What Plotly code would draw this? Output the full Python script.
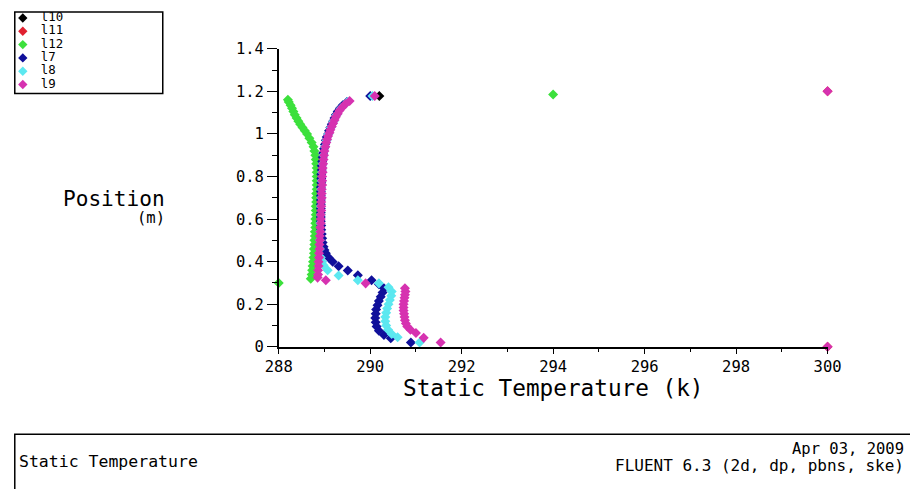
import plotly.graph_objects as go

FONT = "DejaVu Sans Mono"

# ---------------- data ----------------
series_names = ["l10", "l11", "l12", "l7", "l8", "l9"]
series_colors = ["#000000", "#e02030", "#3ce03c", "#10109a", "#5ce8f0", "#d632b0"]

# l10 (black)
T10 = [290.20]
P10 = [1.178]

# l11 (red)
T11 = [300.0, 300.0]
P11 = [1.20, 0.0]

# l12 (green)
P12 = [0.32, 0.34, 0.36, 0.38, 0.40, 0.42, 0.44, 0.46, 0.48, 0.50,
       0.52, 0.54, 0.56, 0.58, 0.60, 0.62, 0.64, 0.66, 0.68, 0.70,
       0.72, 0.74, 0.76, 0.78, 0.80, 0.82, 0.84, 0.86, 0.88, 0.90,
       0.92, 0.94, 0.96, 0.98, 1.00, 1.015, 1.03, 1.045, 1.06, 1.075,
       1.09, 1.105, 1.12, 1.135, 1.15, 1.16, 0.30, 1.185]
T12 = [288.70, 288.72, 288.73, 288.74, 288.75, 288.76, 288.77, 288.77, 288.78, 288.78,
       288.79, 288.79, 288.80, 288.80, 288.80, 288.81, 288.81, 288.81, 288.82, 288.82,
       288.82, 288.83, 288.83, 288.83, 288.83, 288.83, 288.83, 288.82, 288.81, 288.80,
       288.78, 288.76, 288.72, 288.67, 288.62, 288.57, 288.52, 288.47, 288.43, 288.39,
       288.35, 288.32, 288.29, 288.26, 288.22, 288.20, 288.00, 294.00]

# l7 (dark blue)
P7 = [1.15, 1.135, 1.12, 1.105, 1.09, 1.075, 1.06, 1.045, 1.03, 1.015,
      1.0, 0.985, 0.97, 0.95, 0.93, 0.91, 0.89, 0.87, 0.85, 0.83,
      0.81, 0.79, 0.77, 0.75, 0.73, 0.71, 0.69, 0.67, 0.65, 0.63,
      0.61, 0.59, 0.57, 0.55, 0.53, 0.51, 0.49, 0.47, 0.455,
      0.44, 0.42, 0.40, 0.378, 0.358, 0.336, 0.313, 0.294, 0.275, 0.255,
      0.235, 0.215, 0.195, 0.175, 0.155, 0.135, 0.115, 0.095, 0.075, 0.055,
      0.04, 0.02, 1.178]
T7 = [289.49, 289.40, 289.34, 289.29, 289.25, 289.22, 289.19, 289.16, 289.13, 289.10,
      289.08, 289.05, 289.03, 289.01, 288.99, 288.97, 288.96, 288.95, 288.94, 288.94,
      288.93, 288.93, 288.93, 288.92, 288.92, 288.92, 288.92, 288.92, 288.92, 288.92,
      288.92, 288.92, 288.93, 288.93, 288.94, 288.95, 288.96, 288.98, 289.00,
      289.03, 289.09, 289.18, 289.31, 289.51, 289.73, 290.03, 290.19, 290.30, 290.27,
      290.23, 290.19, 290.16, 290.13, 290.12, 290.11, 290.12, 290.14, 290.19, 290.30,
      290.45, 290.89, 290.00]

# l8 (cyan)
P8 = [1.15, 1.12, 1.09, 1.06, 1.03, 1.0, 0.97, 0.94, 0.90, 0.86,
      0.82, 0.78, 0.74, 0.70, 0.66, 0.62, 0.58, 0.54, 0.50, 0.46,
      0.42, 0.40, 0.383, 0.36, 0.335, 0.313, 0.298, 0.28, 0.26, 0.24,
      0.22, 0.20, 0.18, 0.16, 0.14, 0.12, 0.10, 0.08, 0.06, 0.045,
      0.02, 1.178]
T8 = [289.50, 289.36, 289.27, 289.20, 289.14, 289.09, 289.05, 289.01, 288.98, 288.96,
      288.95, 288.94, 288.93, 288.93, 288.92, 288.92, 288.91, 288.91, 288.90, 288.90,
      288.92, 288.95, 288.98, 289.07, 289.31, 289.73, 290.19, 290.40, 290.47, 290.46,
      290.43, 290.40, 290.37, 290.35, 290.33, 290.33, 290.35, 290.39, 290.47, 290.60,
      291.08, 290.05]

# l9 (magenta)
P9 = [1.155, 1.14, 1.125, 1.11, 1.095, 1.08, 1.065, 1.05, 1.035, 1.02,
      1.005, 0.99, 0.975, 0.96, 0.94, 0.92, 0.90, 0.88, 0.86, 0.84,
      0.82, 0.80, 0.78, 0.76, 0.74, 0.72, 0.70, 0.68, 0.66, 0.64,
      0.62, 0.60, 0.58, 0.56, 0.54, 0.52, 0.50, 0.48, 0.46, 0.44,
      0.42, 0.40, 0.38, 0.36, 0.34, 0.325,
      0.313, 0.298, 0.275, 0.26, 0.245, 0.23, 0.215, 0.20, 0.185, 0.17,
      0.155, 0.14, 0.125, 0.11, 0.095, 0.08, 0.065, 0.042, 0.02,
      1.178, 1.20, 0.0]
T9 = [289.55, 289.46, 289.39, 289.33, 289.29, 289.25, 289.22, 289.19, 289.16, 289.13,
      289.11, 289.08, 289.06, 289.04, 289.02, 289.00, 288.99, 288.98, 288.97, 288.96,
      288.96, 288.95, 288.95, 288.95, 288.94, 288.94, 288.94, 288.93, 288.93, 288.93,
      288.92, 288.92, 288.92, 288.91, 288.91, 288.90, 288.90, 288.89, 288.89, 288.88,
      288.88, 288.87, 288.87, 288.86, 288.86, 288.85,
      289.03, 289.90, 290.76, 290.77, 290.76, 290.75, 290.74, 290.73, 290.73, 290.73,
      290.74, 290.75, 290.76, 290.78, 290.81, 290.88, 291.00, 291.17, 291.54,
      290.10, 300.0, 300.0]

x_ticks = [288, 290, 292, 294, 296, 298, 300]
x_ticklabels = ["288", "290", "292", "294", "296", "298", "300"]
y_ticks = [0, 0.2, 0.4, 0.6, 0.8, 1, 1.2, 1.4]
y_ticklabels = ["0", "0.2", "0.4", "0.6", "0.8", "1", "1.2", "1.4"]

xs = [T10, T11, T12, T7, T8, T9]
ys = [P10, P11, P12, P7, P8, P9]

# ---------------- layout helpers ----------------
# the photographed page appears slightly scaled/offset; map target pixels to page pixels
SC, OX, OY = 0.97, 13.2, 7.0
W, H = 925, 497


def px_x(p):
    page = max((p - OX) / SC, 0.8)
    return page / W


def px_y(p):
    page = max((p - OY) / SC, 0.8)
    return 1 - page / H


def fs(size):
    return round(size / SC, 1)


fig = go.Figure()
for name, col, xv, yv in zip(series_names, series_colors, xs, ys):
    fig.add_trace(go.Scatter(
        x=xv, y=yv, mode="markers", name=name, showlegend=False,
        cliponaxis=False,
        marker=dict(symbol="diamond", size=fs(7.5), color=col, line=dict(width=0)),
    ))

# manual legend (on its own small axes; x in target pixels, y = item index)
leg_idx = list(range(len(series_names)))
fig.add_trace(go.Scatter(
    x=[22] * len(series_names), y=leg_idx, mode="markers",
    marker=dict(symbol="diamond", size=fs(7), color=series_colors),
    xaxis="x2", yaxis="y2", showlegend=False, hoverinfo="skip"))
fig.add_trace(go.Scatter(
    x=[40] * len(series_names), y=leg_idx, mode="text", text=series_names,
    textposition="middle right",
    textfont=dict(family=FONT, size=fs(12), color="#000000"),
    xaxis="x2", yaxis="y2", showlegend=False, hoverinfo="skip"))

axis_common = dict(showgrid=False, zeroline=False, showline=True,
                   linecolor="#000000", linewidth=1.5,
                   tickcolor="#000000", tickwidth=1.2,
                   tickfont=dict(family=FONT, size=fs(15), color="#000000"))

fig.update_layout(
    width=W, height=H, autosize=False,
    margin=dict(l=0, r=0, t=0, b=0),
    paper_bgcolor="white", plot_bgcolor="white",
    showlegend=False,
    xaxis=dict(domain=[px_x(278), px_x(827)], range=[288, 300],
               tickvals=x_ticks, ticktext=x_ticklabels,
               ticks="outside", ticklen=5, anchor="y",
               minor=dict(dtick=1, ticks="outside", ticklen=3,
                          tickcolor="#000000", tickwidth=1),
               **axis_common),
    yaxis=dict(domain=[px_y(347), px_y(47)], range=[0, 1.4],
               tickvals=y_ticks, ticktext=y_ticklabels,
               ticks="outside", ticklen=10, anchor="x",
               minor=dict(dtick=0.1, ticks="outside", ticklen=5,
                          tickcolor="#000000", tickwidth=1),
               **axis_common),
    xaxis2=dict(domain=[px_x(14), px_x(162)], range=[14, 162],
                visible=False, fixedrange=True, anchor="y2"),
    yaxis2=dict(domain=[px_y(92), px_y(10)], range=[5.67, -0.45],
                visible=False, fixedrange=True, anchor="x2"),
)

shapes = [
    # legend box
    dict(type="rect", xref="paper", yref="paper",
         x0=px_x(6), x1=px_x(162), y0=px_y(92), y1=px_y(10),
         line=dict(color="#000000", width=1.5), fillcolor="rgba(0,0,0,0)"),
    # bottom title box
    dict(type="rect", xref="paper", yref="paper",
         x0=px_x(6), x1=1.05, y0=-0.05, y1=px_y(435),
         line=dict(color="#000000", width=1.5), fillcolor="rgba(0,0,0,0)"),
]
fig.update_layout(shapes=shapes)

annotations = [
    dict(text="Static Temperature (k)", x=px_x(553), y=px_y(388),
         xref="paper", yref="paper", showarrow=False,
         xanchor="center", yanchor="middle",
         font=dict(family=FONT, size=fs(22), color="#000000")),
    dict(text="Position", x=px_x(166), y=px_y(198),
         xref="paper", yref="paper", showarrow=False,
         xanchor="right", yanchor="middle",
         font=dict(family=FONT, size=fs(20.5), color="#000000")),
    dict(text="(m)", x=px_x(166), y=px_y(217),
         xref="paper", yref="paper", showarrow=False,
         xanchor="right", yanchor="middle",
         font=dict(family=FONT, size=fs(15), color="#000000")),
    dict(text="Static Temperature", x=px_x(16), y=px_y(462),
         xref="paper", yref="paper", showarrow=False,
         xanchor="left", yanchor="middle",
         font=dict(family=FONT, size=fs(16), color="#000000")),
    dict(text="Apr 03, 2009", x=px_x(905), y=px_y(450),
         xref="paper", yref="paper", showarrow=False,
         xanchor="right", yanchor="middle",
         font=dict(family=FONT, size=fs(15), color="#000000")),
    dict(text="FLUENT 6.3 (2d, dp, pbns, ske)", x=px_x(905), y=px_y(466),
         xref="paper", yref="paper", showarrow=False,
         xanchor="right", yanchor="middle",
         font=dict(family=FONT, size=fs(15.5), color="#000000")),
]
fig.update_layout(annotations=annotations)

fig.write_html(
    "out.html",
    config={"displayModeBar": False},
    post_script="document.body.style.margin='0';document.body.style.padding='0';",
)
